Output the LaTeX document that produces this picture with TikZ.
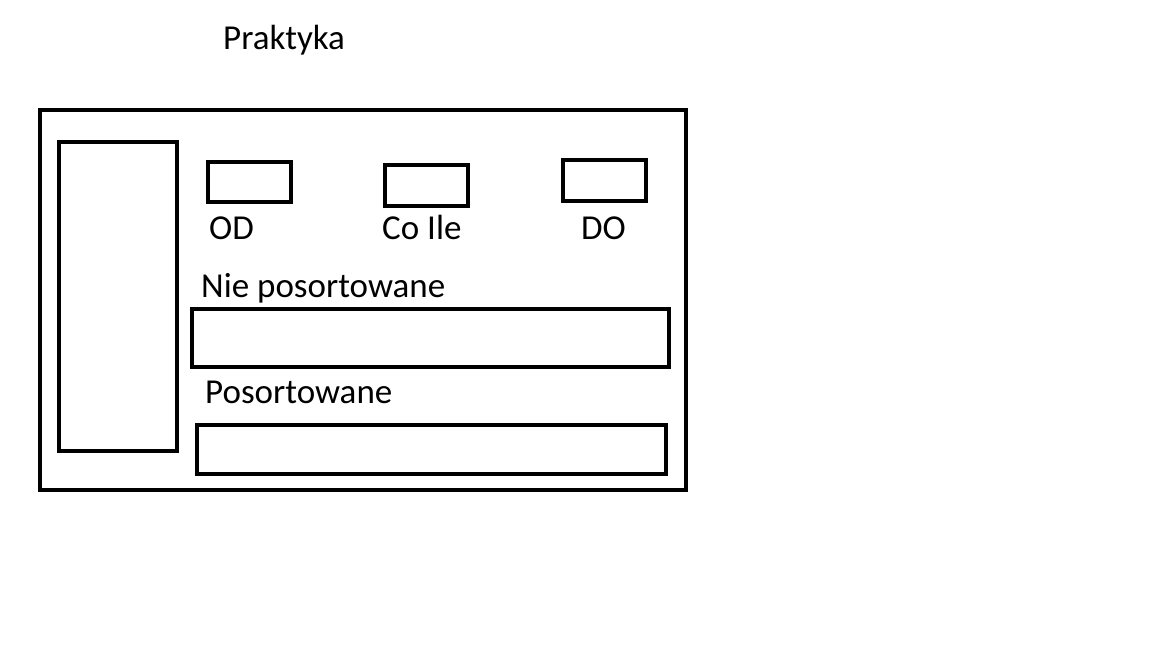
\documentclass[tikz,border=0pt]{standalone}
\usepackage{fontspec}
\setmainfont{Carlito}
\begin{document}
\begin{tikzpicture}[x=1pt,y=-1pt,
  box/.style={draw=black,line width=4pt},
  lbl/.style={anchor=base west,inner sep=0pt,font=\fontsize{35}{38}\selectfont}]
\useasboundingbox[fill=white] (0,0) rectangle (1152,648);
\node[lbl] (title) at (223,49) {Praktyka};
\draw[box] (40,110) rectangle (686,490);
\draw[box] (59,142) rectangle (177,451);
\draw[box] (208,162) rectangle (291,202);
\draw[box] (385,165) rectangle (468,206);
\draw[box] (563,160) rectangle (646,201);
\node[lbl] (od) at (209,239) {OD};
\node[lbl] (coile) at (382,239) {Co Ile};
\node[lbl] (do) at (581,239) {DO};
\node[lbl] (nie) at (201,297) {Nie posortowane};
\draw[box] (192,309) rectangle (669,367);
\node[lbl] (pos) at (205,403) {Posortowane};
\draw[box] (197,425) rectangle (666,474);
\end{tikzpicture}
\end{document}
